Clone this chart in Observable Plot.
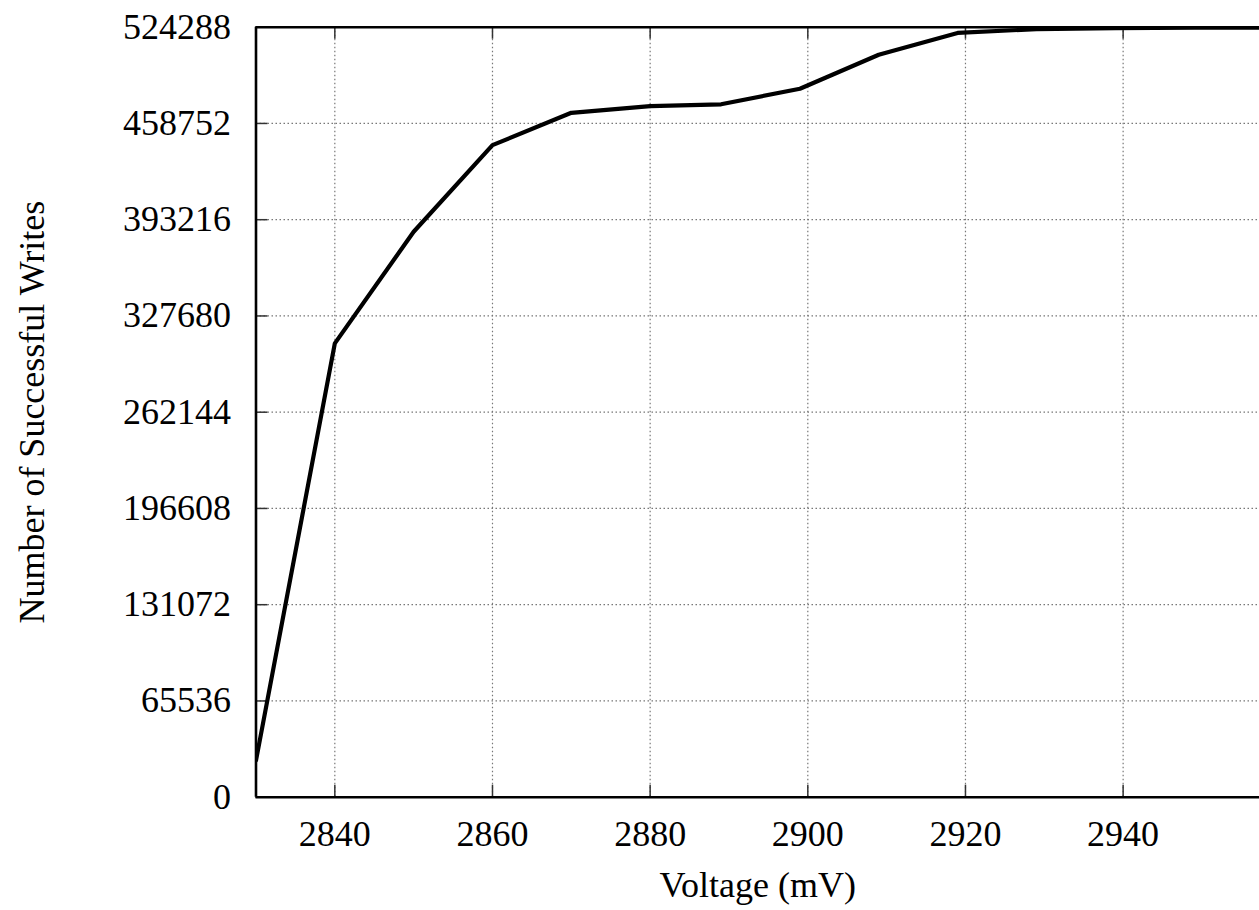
<!DOCTYPE html>
<html>
<head>
<meta charset="utf-8">
<script src="https://cdn.jsdelivr.net/npm/d3@7"></script>
<script src="https://cdn.jsdelivr.net/npm/@observablehq/plot@0.6"></script>
<style>
  html, body { margin: 0; padding: 0; background: #fff; overflow: hidden; }
</style>
</head>
<body>
<div id="chart"></div>
<script>
const voltages = [2830, 2840, 2850, 2860, 2870, 2880, 2889, 2899, 2909, 2919, 2929, 2939, 2949, 2959];
const writes   = [25000, 309000, 385000, 444000, 466000, 470500, 471800, 482400, 505500, 520400, 523000, 523700, 523900, 524000];
const xTicks = [2840, 2860, 2880, 2900, 2920, 2940];
const yTicks = [0, 65536, 131072, 196608, 262144, 327680, 393216, 458752, 524288];
const xLabel = "Voltage (mV)";
const yLabel = "Number of Successful Writes";

const data = voltages.map((v, i) => ({v, w: writes[i]}));

const W = 1259, H = 910;
const mL = 255.5, mT = 26.7, mB = 113.3, mR = 0;
const plotW = W - mL - mR, plotH = H - mT - mB;

const chart = Plot.plot({
  width: W,
  height: H,
  marginLeft: mL,
  marginTop: mT,
  marginBottom: mB,
  marginRight: mR,
  style: {fontFamily: "'Liberation Serif', 'DejaVu Serif', serif", fontSize: "36px", color: "#000", background: "#fff"},
  x: {domain: [2830, 2957.3], ticks: xTicks, label: null},
  y: {domain: [0, 524288], ticks: yTicks, label: null},
  marks: [
    Plot.gridX(xTicks, {stroke: "#777", strokeOpacity: 1, strokeWidth: 1.2, strokeDasharray: "1.5,2.5"}),
    Plot.gridY(yTicks, {stroke: "#777", strokeOpacity: 1, strokeWidth: 1.2, strokeDasharray: "1.5,2.5"}),
    // inward tick marks
    Plot.tickY(yTicks, {y: d => d, stroke: "#333", strokeWidth: 1.5, insetRight: plotW - 12}),
    Plot.tickX(xTicks, {x: d => d, stroke: "#333", strokeWidth: 1.5, insetTop: plotH - 12}),
    Plot.tickX(xTicks, {x: d => d, stroke: "#333", strokeWidth: 1.5, insetBottom: plotH - 12}),
    Plot.axisX(xTicks, {tickSize: 0, tickPadding: 23, fontSize: 36, fill: "#000", label: null, tickFormat: d => String(d)}),
    Plot.axisY(yTicks, {tickSize: 0, tickPadding: 25, fontSize: 36, fill: "#000", label: null, tickFormat: d => String(d)}),
    // frame (left, top, bottom)
    Plot.ruleX([2830], {stroke: "#000", strokeWidth: 2.6}),
    Plot.ruleY([0, 524288], {stroke: "#000", strokeWidth: 2.6}),
    Plot.line(data, {x: "v", y: "w", stroke: "#000", strokeWidth: 4.2, clip: true, strokeLinejoin: "miter"}),
    Plot.text([xLabel], {frameAnchor: "bottom", dy: 88, textAnchor: "middle", lineAnchor: "middle", fontSize: 36, fill: "#000"}),
    Plot.text([yLabel], {frameAnchor: "left", dx: -223.5, rotate: -90, textAnchor: "middle", lineAnchor: "middle", fontSize: 36, fill: "#000"})
  ]
});
document.getElementById("chart").appendChild(chart);
</script>
</body>
</html>
